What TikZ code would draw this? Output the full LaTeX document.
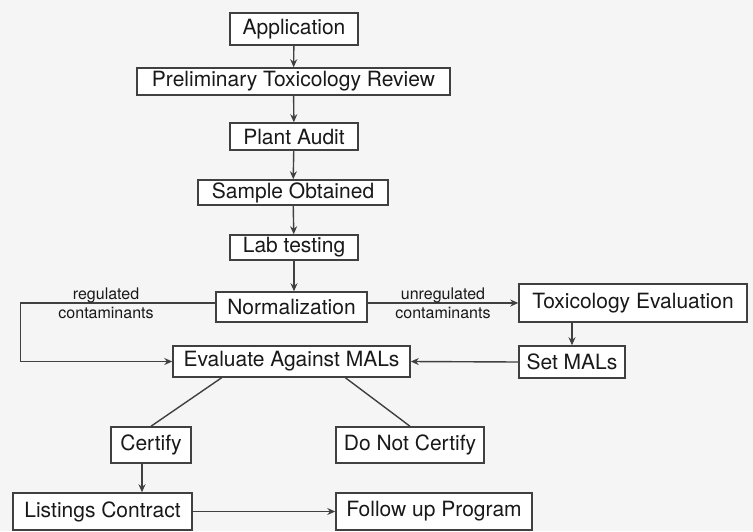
\documentclass[tikz,border=0pt]{standalone}
\usepackage{fontspec}
\setmainfont{TeX Gyre Heros}
\usetikzlibrary{arrows.meta,positioning,calc}

\begin{document}
\begin{tikzpicture}[x=1pt,y=1pt,
  stage/.style={draw=black!75,line width=1.5pt,fill=white,inner sep=1pt,text=black!90,font=\fontsize{21}{24}\selectfont},
  lbl/.style={inner sep=0pt,align=center,text=black!90,font=\fontsize{16}{19}\selectfont},
  link/.style={draw=black!75,line width=1.4pt},
  arr/.style={link,-{Stealth[length=8pt,width=7pt]}}]
\fill[black!4] (0,0) rectangle (753,-531);
\useasboundingbox (0,0) rectangle (753,-531);
% main chain
\node[stage,minimum width=128pt,minimum height=32pt] (app) at (294,-29) {Application};
\node[stage,minimum width=313pt,minimum height=27pt] (prelim) at (293.5,-81.5) {Preliminary Toxicology Review};
\node[stage,minimum width=128pt,minimum height=27pt] (plant) at (294,-136.5) {Plant Audit};
\node[stage,minimum width=190pt,minimum height=25pt] (sample) at (293,-192.5) {Sample Obtained};
\node[stage,minimum width=128pt,minimum height=25pt] (lab) at (294,-247.5) {Lab testing};
\node[stage,minimum width=151pt,minimum height=30pt] (norm) at (291.5,-307) {Normalization};
\node[stage,minimum width=237pt,minimum height=31pt] (eval) at (291.5,-361.5) {Evaluate Against MALs};
% unregulated branch
\node[stage,minimum width=228pt,minimum height=38pt] (tox) at (633,-303) {Toxicology Evaluation};
\node[stage,minimum width=106pt,minimum height=32pt] (setmal) at (572,-362) {Set MALs};
% outcome
\node[stage,minimum width=80pt,minimum height=36pt] (cert) at (151,-445) {Certify};
\node[stage,minimum width=148pt,minimum height=36pt] (nocert) at (410,-445) {Do Not Certify};
\node[stage,minimum width=179pt,minimum height=37pt] (listing) at (102.5,-511.5) {Listings Contract};
\node[stage,minimum width=196pt,minimum height=37pt] (follow) at (434,-511.5) {Follow up Program};

\draw[arr] (app)--(prelim); \draw[arr] (prelim)--(plant); \draw[arr] (plant)--(sample);
\draw[arr] (sample)--(lab); \draw[arr] (lab.south)--(lab.south |- norm.north);
\draw[arr] (norm.west |- tox.west) -- ++(-195,0) node[lbl,pos=0.56] {regulated\\contaminants} |- (eval.west);
\draw[arr] (norm.east |- tox.west) -- node[lbl] {unregulated\\contaminants} (tox.west);
\draw[arr] (tox.south -| setmal.north) -- (setmal.north);
\draw[arr] (setmal.west) -- (eval.east);
\draw[link] ($(eval.south west)!0.207!(eval.south east)$) -- (cert.north);
\draw[link] ($(eval.south west)!0.726!(eval.south east)$) -- (nocert.north);
\draw[arr] ([xshift=-9pt]cert.south) -- ([xshift=-9pt]cert.south |- listing.north);
\draw[arr] (listing)--(follow);
\end{tikzpicture}
\end{document}
